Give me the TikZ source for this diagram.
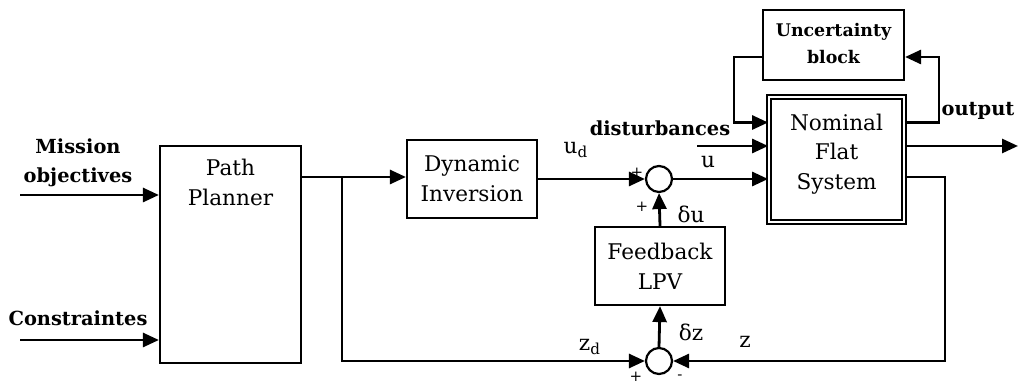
\documentclass[tikz,border=0pt]{standalone}
\usepackage{fontspec}
\setmainfont{DejaVu Serif}
\usetikzlibrary{arrows.meta,calc}

\begin{document}
\begin{tikzpicture}[
    x=0.5pt, y=-0.5pt,
    text=black,
    font=\fontsize{10.8}{14.8}\selectfont,
    >={Triangle[length=8pt, width=7pt]},
    block/.style={draw=black, line width=1.1pt, fill=white, align=center, inner sep=0pt},
    sumnode/.style={circle, draw=black, line width=1.1pt, fill=white, minimum size=13pt, inner sep=0pt},
    sig/.style={line width=1.4pt},
    arrowline/.style={sig, ->},
    lbl/.style={inner sep=0pt, align=center},
    boldlbl/.style={lbl, font=\fontsize{9.7}{14.5}\selectfont\bfseries},
    sign/.style={inner sep=0pt, font=\fontsize{7.5}{7.5}\selectfont},
]
\useasboundingbox (0,0) rectangle (1020,383);

% ==================== PLANNER ====================
\node[block, minimum width=70.5pt, minimum height=108.5pt] (planner) at (230.5,254.5) {};
\node[lbl, anchor=north] (planner_txt) at ($(planner.north)+(0,14)$) {Path\\Planner};

\coordinate (mis_in) at (20,195);
\coordinate (con_in) at (20,340);
\draw[arrowline] (mis_in) -- (mis_in -| planner.west);
\draw[arrowline] (con_in) -- (con_in -| planner.west);
\node[boldlbl] (mis_lbl) at (78,163) {Mission\\objectives};
\node[boldlbl] (con_lbl) at (78,318) {Constraintes};

% ==================== INVERSION / FEEDBACK ====================
\node[block, minimum width=65pt, minimum height=39pt] (inversion) at (472,179) {Dynamic\\Inversion};
\node[sumnode] (sum_u) at (659,179) {};
\node[sumnode] (sum_z) at (659,361) {};
\node[block, minimum width=65pt, minimum height=39pt] (feedback) at (660,266) {Feedback\\LPV};

\coordinate (branch) at (342,177);
\draw[sig] (planner.east |- branch) -- (branch);
\draw[arrowline] (branch) -- (branch -| inversion.west);
\draw[arrowline] (branch) |- (sum_z.west);
\draw[arrowline] (inversion.east |- sum_u) -- (sum_u.west);
\draw[arrowline] (sum_z.north) -- (feedback.south);
\draw[arrowline] (feedback.north) -- (sum_u.south);

% ==================== PLANT / UNCERTAINTY ====================
\node[block, double, double distance=1.1pt, line width=0.9pt,
      minimum width=67.5pt, minimum height=62.5pt] (nominal) at (836.5,159.5) {};
\node[lbl] (nominal_txt) at (836.5,154) {Nominal\\Flat\\System};
\node[block, font=\fontsize{8.7}{13.5}\selectfont\bfseries,
      minimum width=70.5pt, minimum height=35pt] (uncertainty) at (833.5,45) {};
\node[lbl, font=\fontsize{8.7}{13.5}\selectfont\bfseries] (uncertainty_txt) at (833.5,43.5) {Uncertainty\\block};

\coordinate (unc_l) at (734,57);
\coordinate (unc_r) at (939,57);
\coordinate (dist_in) at (697,146);
\coordinate (out_end) at (1018,146);
\coordinate (z_turn) at (945,177);

\draw[arrowline] (sum_u.east) -- (sum_u -| nominal.west);
\draw[arrowline] (dist_in) -- (dist_in -| nominal.west);
\draw[arrowline] (uncertainty.west |- unc_l) -- (unc_l) |- ($(nominal.west)+(0,-37)$);
\draw[arrowline] ($(nominal.east)+(0,-37)$) -| (unc_r) -- (unc_r -| uncertainty.east);
\draw[arrowline] (nominal.east |- out_end) -- (out_end);
\draw[arrowline] (nominal.east |- z_turn) -- (z_turn) |- (sum_z.east);

% ==================== SIGNAL LABELS ====================
\node[boldlbl] (dist_lbl) at (660,128) {disturbances};
\node[boldlbl] (out_lbl) at (978,111) {output};
\node[lbl] (ud_lbl) at (576,150) {u\textsubscript{d}};
\node[lbl] (u_lbl) at (708,162) {u};
\node[lbl] (du_lbl) at (691,214) {δu};
\node[lbl] (dz_lbl) at (691,332) {δz};
\node[lbl] (z_lbl) at (745,342) {z};
\node[lbl] (zd_lbl) at (590,347) {z\textsubscript{d}};

% signs at the summing points
\node[sign] (s1) at (637,173) {+};
\node[sign] (s2) at (642,207) {+};
\node[sign] (s3) at (636,377) {+};
\node[sign] (s4) at (680,377) {-};

\end{tikzpicture}
\end{document}
